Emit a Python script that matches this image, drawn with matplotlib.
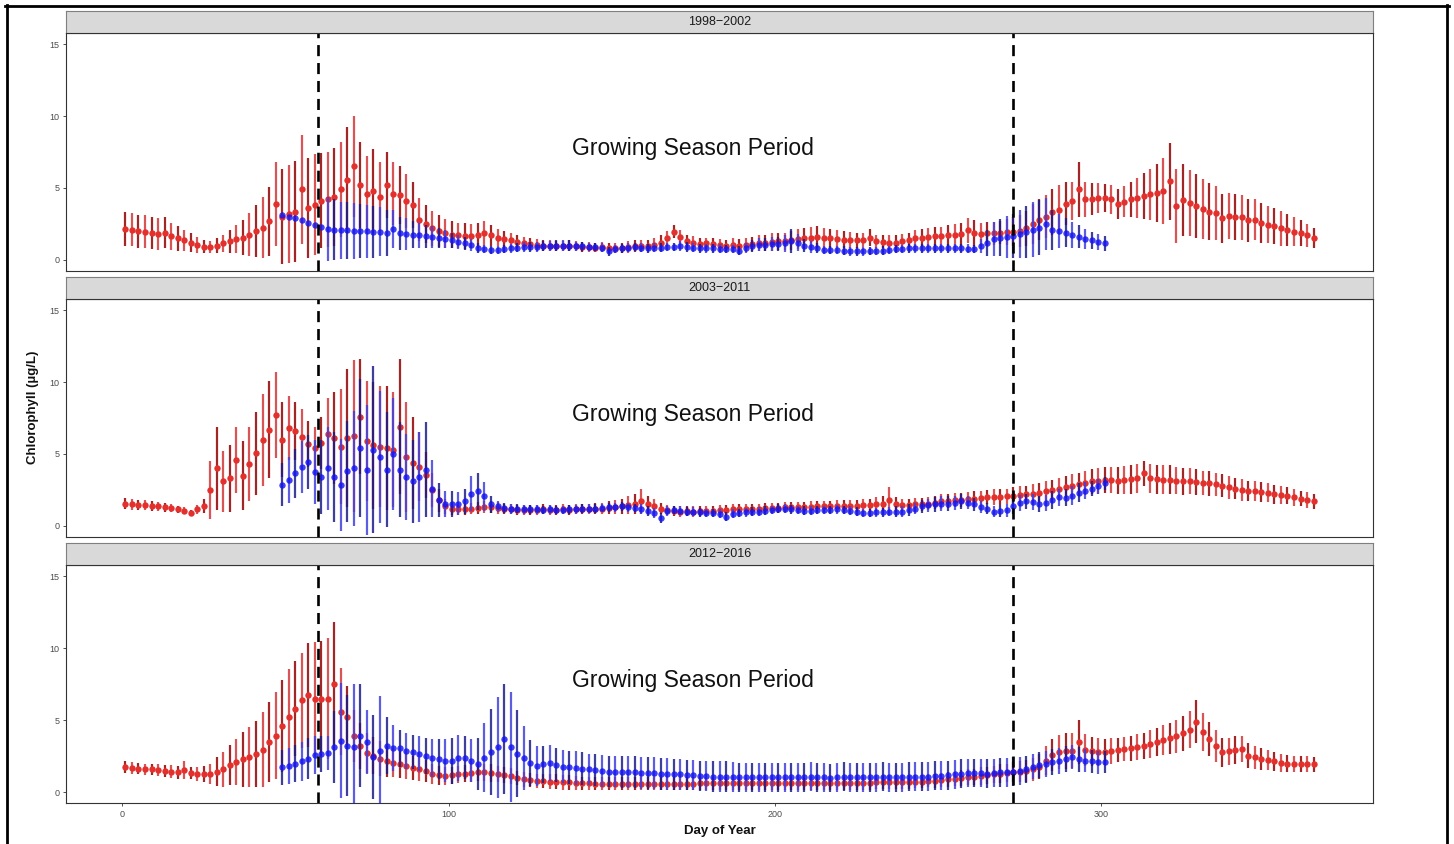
import numpy as np
import matplotlib
matplotlib.use("Agg")
import matplotlib.pyplot as plt
from matplotlib.lines import Line2D

plt.rcParams['font.family'] = ['Liberation Sans', 'DejaVu Sans']

# daily chlorophyll means +/- sd, sampled every second day
# red series starts on day 1, blue series on day 49
red_start, blue_start, day_step = 1, 49, 2

periods = ["1998\u22122002", "2003\u22122011", "2012\u22122016"]
season_start, season_end = 60, 273

# ---- 1998-2002 ----
p1_red_mean = [
    2.15, 2.1, 2.0, 1.95, 1.85, 1.8, 1.9, 1.65, 1.5, 1.35,
    1.2, 1.05, 0.9, 0.9, 1.0, 1.15, 1.3, 1.45, 1.55, 1.75,
    2.0, 2.25, 2.7, 3.9, 3.0, 3.2, 3.35, 4.9, 3.6, 3.85,
    4.1, 4.2, 4.35, 4.9, 5.55, 6.5, 5.2, 4.6, 4.8, 4.4,
    5.2, 4.6, 4.5, 4.1, 3.8, 2.8, 2.5, 2.2, 2.0, 1.85,
    1.75, 1.7, 1.65, 1.65, 1.7, 1.85, 1.7, 1.55, 1.45, 1.35,
    1.25, 1.2, 1.1, 1.05, 1.0, 1.0, 0.95, 0.95, 1.0, 0.95,
    0.9, 0.9, 0.85, 0.9, 0.85, 0.8, 0.85, 0.9, 0.95, 0.95,
    1.0, 1.05, 1.2, 1.5, 1.95, 1.6, 1.3, 1.2, 1.1, 1.15,
    1.1, 1.05, 1.0, 1.05, 1.0, 1.05, 1.1, 1.15, 1.2, 1.25,
    1.3, 1.3, 1.35, 1.45, 1.5, 1.55, 1.6, 1.55, 1.5, 1.45,
    1.4, 1.4, 1.35, 1.4, 1.55, 1.3, 1.25, 1.2, 1.2, 1.3,
    1.4, 1.5, 1.55, 1.6, 1.65, 1.65, 1.7, 1.75, 1.8, 2.05,
    1.85, 1.8, 1.85, 1.85, 1.9, 1.95, 1.95, 2.0, 2.2, 2.5,
    2.8, 3.0, 3.3, 3.5, 3.9, 4.1, 4.9, 4.2, 4.25, 4.3,
    4.3, 4.2, 3.9, 4.05, 4.2, 4.3, 4.45, 4.55, 4.65, 4.8,
    5.45, 3.75, 4.15, 3.95, 3.75, 3.55, 3.35, 3.25, 2.9, 3.05,
    3.0, 2.95, 2.75, 2.8, 2.55, 2.45, 2.35, 2.2, 2.1, 1.95,
    1.85, 1.7, 1.55]
p1_red_sd = [
    1.15, 1.15, 1.15, 1.15, 1.1, 1.1, 1.1, 0.95, 0.85, 0.75,
    0.65, 0.55, 0.45, 0.4, 0.5, 0.6, 0.8, 1.0, 1.2, 1.5,
    1.8, 2.1, 2.4, 2.9, 3.3, 3.4, 3.5, 3.8, 3.5, 3.5,
    3.3, 3.3, 3.4, 3.3, 3.7, 3.5, 3.0, 2.6, 2.9, 2.4,
    2.3, 2.2, 2.0, 1.9, 1.6, 1.5, 1.3, 1.2, 1.1, 1.0,
    0.95, 0.9, 0.9, 0.85, 0.9, 0.85, 0.7, 0.6, 0.55, 0.5,
    0.45, 0.4, 0.4, 0.4, 0.35, 0.35, 0.35, 0.35, 0.35, 0.35,
    0.35, 0.35, 0.3, 0.35, 0.35, 0.35, 0.35, 0.4, 0.4, 0.4,
    0.4, 0.45, 0.5, 0.5, 0.45, 0.5, 0.45, 0.45, 0.4, 0.4,
    0.4, 0.4, 0.4, 0.45, 0.45, 0.5, 0.5, 0.55, 0.55, 0.6,
    0.6, 0.6, 0.65, 0.7, 0.7, 0.75, 0.75, 0.7, 0.65, 0.6,
    0.6, 0.55, 0.55, 0.5, 0.6, 0.45, 0.45, 0.5, 0.55, 0.5,
    0.5, 0.55, 0.6, 0.6, 0.65, 0.65, 0.7, 0.75, 0.8, 0.85,
    0.9, 0.8, 0.8, 0.8, 0.8, 0.9, 1.0, 1.1, 1.2, 1.4,
    1.4, 1.5, 1.6, 1.7, 1.5, 1.3, 1.9, 1.2, 1.1, 1.05,
    1.0, 1.0, 1.05, 1.1, 1.2, 1.4, 1.6, 1.8, 2.0, 2.3,
    2.7, 2.6, 2.5, 2.3, 2.2, 2.1, 2.0, 1.9, 1.7, 1.6,
    1.6, 1.55, 1.5, 1.45, 1.4, 1.3, 1.25, 1.2, 1.1, 1.0,
    0.9, 0.8, 0.7]
p1_blue_mean = [
    3.1, 3.0, 2.9, 2.8, 2.6, 2.45, 2.3, 2.15, 2.1, 2.05,
    2.05, 2.0, 2.0, 2.0, 1.95, 1.95, 1.9, 2.15, 1.85, 1.8,
    1.75, 1.7, 1.65, 1.6, 1.55, 1.45, 1.35, 1.25, 1.15, 1.05,
    0.85, 0.75, 0.7, 0.7, 0.75, 0.8, 0.85, 0.9, 0.9, 0.9,
    0.95, 0.95, 1.0, 1.0, 1.0, 0.95, 0.95, 0.9, 0.9, 0.85,
    0.6, 0.75, 0.8, 0.85, 0.9, 0.85, 0.8, 0.85, 0.85, 0.9,
    0.9, 0.95, 0.9, 0.85, 0.8, 0.8, 0.8, 0.78, 0.76, 0.75,
    0.65, 0.8, 0.95, 1.05, 1.05, 1.1, 1.1, 1.15, 1.3, 1.2,
    1.0, 0.9, 0.8, 0.7, 0.7, 0.7, 0.65, 0.6, 0.6, 0.6,
    0.62, 0.62, 0.65, 0.7, 0.75, 0.75, 0.8, 0.8, 0.8, 0.8,
    0.8, 0.8, 0.8, 0.8, 0.8, 0.78, 0.75, 0.95, 1.2, 1.45,
    1.55, 1.6, 1.65, 1.8, 1.95, 2.1, 2.25, 2.5, 2.1, 2.0,
    1.9, 1.75, 1.6, 1.45, 1.35, 1.25, 1.15]
p1_blue_sd = [
    0.0, 0.0, 0.0, 0.0, 0.0, 0.0, 0.0, 2.2, 2.1, 2.0,
    2.0, 1.95, 1.9, 1.85, 1.8, 1.7, 1.6, 1.3, 1.15, 1.1,
    0.95, 0.85, 0.8, 0.75, 0.7, 0.6, 0.55, 0.5, 0.45, 0.4,
    0.35, 0.3, 0.3, 0.3, 0.3, 0.3, 0.3, 0.35, 0.35, 0.35,
    0.35, 0.35, 0.35, 0.35, 0.35, 0.3, 0.3, 0.3, 0.3, 0.3,
    0.3, 0.3, 0.3, 0.3, 0.3, 0.3, 0.3, 0.3, 0.3, 0.3,
    0.3, 0.35, 0.35, 0.3, 0.3, 0.3, 0.3, 0.3, 0.3, 0.3,
    0.3, 0.35, 0.4, 0.45, 0.45, 0.5, 0.5, 0.6, 0.85, 0.6,
    0.45, 0.4, 0.35, 0.3, 0.3, 0.3, 0.3, 0.3, 0.3, 0.3,
    0.3, 0.3, 0.3, 0.3, 0.3, 0.3, 0.3, 0.3, 0.3, 0.3,
    0.3, 0.3, 0.3, 0.3, 0.3, 0.3, 0.3, 0.5, 0.9, 1.2,
    1.3, 1.45, 1.55, 1.7, 1.8, 1.9, 1.9, 1.8, 1.4, 1.2,
    1.0, 0.9, 0.8, 0.7, 0.6, 0.55, 0.5]

# ---- 2003-2011 ----
p2_red_mean = [
    1.55, 1.5, 1.45, 1.45, 1.4, 1.35, 1.3, 1.25, 1.15, 1.05,
    0.9, 1.15, 1.4, 2.5, 4.0, 3.1, 3.3, 4.6, 3.5, 4.3,
    5.05, 6.0, 6.7, 7.7, 6.0, 6.8, 6.6, 6.2, 5.7, 5.4,
    5.75, 6.4, 6.1, 5.5, 6.1, 6.25, 7.6, 5.9, 5.6, 5.5,
    5.4, 5.3, 6.9, 4.8, 4.4, 4.1, 3.55, 2.5, 1.8, 1.35,
    1.2, 1.15, 1.15, 1.2, 1.25, 1.3, 1.3, 1.25, 1.2, 1.15,
    1.1, 1.1, 1.1, 1.1, 1.15, 1.1, 1.1, 1.15, 1.1, 1.15,
    1.15, 1.15, 1.2, 1.2, 1.25, 1.3, 1.35, 1.45, 1.55, 1.7,
    1.5, 1.35, 1.2, 1.1, 1.05, 1.0, 1.05, 1.0, 1.05, 1.05,
    1.05, 1.1, 1.1, 1.15, 1.15, 1.2, 1.2, 1.2, 1.25, 1.25,
    1.25, 1.3, 1.3, 1.3, 1.3, 1.3, 1.35, 1.35, 1.35, 1.4,
    1.4, 1.4, 1.4, 1.45, 1.45, 1.5, 1.55, 1.8, 1.5, 1.45,
    1.45, 1.5, 1.5, 1.55, 1.6, 1.7, 1.75, 1.8, 1.8, 1.85,
    1.9, 1.95, 2.0, 2.0, 2.0, 2.05, 2.1, 2.15, 2.2, 2.25,
    2.3, 2.4, 2.5, 2.6, 2.7, 2.8, 2.9, 3.0, 3.1, 3.15,
    3.2, 3.2, 3.15, 3.2, 3.25, 3.3, 3.65, 3.3, 3.25, 3.2,
    3.2, 3.15, 3.1, 3.1, 3.05, 3.0, 2.95, 2.9, 2.8, 2.7,
    2.6, 2.5, 2.45, 2.4, 2.35, 2.3, 2.2, 2.15, 2.1, 2.0,
    1.9, 1.8, 1.7]
p2_red_sd = [
    0.4, 0.4, 0.35, 0.35, 0.35, 0.3, 0.3, 0.3, 0.25, 0.25,
    0.2, 0.3, 0.5, 2.0, 2.9, 2.1, 2.3, 2.3, 2.4, 2.6,
    2.9, 3.2, 3.4, 3.0, 2.6, 2.2, 2.0, 1.9, 1.6, 1.5,
    1.8, 2.5, 3.2, 4.0, 4.8, 5.3, 4.0, 4.2, 4.4, 4.2,
    4.3, 4.0, 4.7, 3.8, 3.2, 2.4, 1.6, 1.2, 0.8, 0.5,
    0.45, 0.4, 0.4, 0.4, 0.4, 0.4, 0.4, 0.4, 0.35, 0.35,
    0.35, 0.35, 0.35, 0.35, 0.35, 0.35, 0.35, 0.35, 0.35, 0.35,
    0.35, 0.35, 0.4, 0.4, 0.45, 0.5, 0.55, 0.6, 0.7, 0.9,
    0.6, 0.5, 0.4, 0.35, 0.35, 0.35, 0.35, 0.35, 0.35, 0.35,
    0.35, 0.35, 0.35, 0.35, 0.35, 0.35, 0.35, 0.35, 0.35, 0.35,
    0.35, 0.35, 0.35, 0.35, 0.35, 0.4, 0.4, 0.4, 0.4, 0.4,
    0.4, 0.4, 0.4, 0.45, 0.45, 0.5, 0.5, 0.9, 0.5, 0.45,
    0.45, 0.45, 0.45, 0.45, 0.45, 0.5, 0.5, 0.5, 0.5, 0.5,
    0.5, 0.5, 0.5, 0.55, 0.55, 0.55, 0.6, 0.6, 0.6, 0.65,
    0.65, 0.7, 0.7, 0.75, 0.75, 0.8, 0.8, 0.85, 0.85, 0.9,
    0.9, 0.9, 0.95, 0.95, 1.0, 1.0, 0.85, 1.0, 1.0, 1.0,
    1.0, 0.95, 0.95, 0.9, 0.9, 0.85, 0.85, 0.8, 0.8, 0.8,
    0.75, 0.75, 0.7, 0.7, 0.7, 0.65, 0.65, 0.6, 0.6, 0.6,
    0.55, 0.55, 0.5]
p2_blue_mean = [
    2.85, 3.2, 3.65, 4.1, 4.45, 3.75, 3.4, 4.0, 3.4, 2.85,
    3.8, 4.0, 5.4, 3.9, 5.3, 4.8, 3.9, 5.0, 3.9, 3.4,
    3.1, 3.4, 3.9, 2.6, 1.8, 1.55, 1.5, 1.55, 1.7, 2.25,
    2.4, 2.05, 1.5, 1.35, 1.25, 1.2, 1.2, 1.15, 1.15, 1.15,
    1.1, 1.15, 1.1, 1.1, 1.15, 1.15, 1.2, 1.2, 1.2, 1.25,
    1.3, 1.3, 1.35, 1.3, 1.25, 1.2, 1.05, 0.9, 0.55, 1.05,
    1.1, 1.05, 1.0, 1.0, 0.95, 0.9, 0.9, 0.85, 0.65, 0.85,
    0.9, 0.95, 1.0, 1.0, 1.05, 1.1, 1.2, 1.2, 1.15, 1.1,
    1.05, 1.05, 1.1, 1.1, 1.1, 1.15, 1.1, 1.05, 1.0, 0.9,
    0.9, 0.95, 0.95, 1.0, 1.0, 1.0, 1.1, 1.2, 1.35, 1.45,
    1.5, 1.55, 1.55, 1.6, 1.7, 1.6, 1.5, 1.3, 1.2, 1.0,
    1.05, 1.1, 1.35, 1.6, 1.7, 1.65, 1.55, 1.6, 1.8, 2.0,
    1.95, 2.1, 2.3, 2.45, 2.6, 2.75, 2.95]
p2_blue_sd = [
    1.5, 1.6, 1.7, 1.8, 1.9, 2.2, 2.6, 2.9, 3.1, 3.2,
    3.5, 4.0, 4.8, 4.5, 5.8, 4.6, 4.0, 3.9, 3.3, 3.0,
    2.9, 3.1, 3.3, 2.0, 1.2, 0.9, 0.9, 0.8, 0.9, 1.2,
    1.3, 1.0, 0.6, 0.4, 0.35, 0.35, 0.3, 0.3, 0.3, 0.3,
    0.3, 0.3, 0.3, 0.3, 0.3, 0.3, 0.3, 0.3, 0.3, 0.3,
    0.3, 0.3, 0.3, 0.3, 0.3, 0.35, 0.35, 0.35, 0.35, 0.35,
    0.3, 0.3, 0.3, 0.3, 0.3, 0.3, 0.3, 0.3, 0.3, 0.3,
    0.3, 0.3, 0.3, 0.3, 0.3, 0.3, 0.3, 0.3, 0.3, 0.3,
    0.3, 0.3, 0.3, 0.3, 0.3, 0.3, 0.3, 0.3, 0.3, 0.3,
    0.3, 0.3, 0.3, 0.3, 0.35, 0.35, 0.4, 0.4, 0.45, 0.45,
    0.5, 0.5, 0.5, 0.5, 0.5, 0.45, 0.45, 0.4, 0.4, 0.4,
    0.4, 0.45, 0.5, 0.55, 0.55, 0.55, 0.55, 0.55, 0.6, 0.6,
    0.6, 0.65, 0.65, 0.6, 0.55, 0.5, 0.45]

# ---- 2012-2016 ----
p3_red_mean = [
    1.75, 1.7, 1.65, 1.6, 1.6, 1.55, 1.5, 1.45, 1.4, 1.55,
    1.35, 1.3, 1.3, 1.3, 1.45, 1.6, 1.9, 2.1, 2.3, 2.45,
    2.65, 2.95, 3.5, 3.95, 4.6, 5.25, 5.8, 6.4, 6.75, 6.5,
    6.5, 6.5, 7.55, 5.6, 5.2, 3.9, 3.2, 2.75, 2.55, 2.35,
    2.15, 2.05, 1.95, 1.85, 1.7, 1.6, 1.5, 1.3, 1.2, 1.15,
    1.2, 1.25, 1.3, 1.35, 1.4, 1.4, 1.35, 1.3, 1.2, 1.15,
    1.0, 0.9, 0.85, 0.8, 0.8, 0.75, 0.75, 0.7, 0.7, 0.65,
    0.65, 0.65, 0.6, 0.6, 0.6, 0.6, 0.6, 0.6, 0.6, 0.6,
    0.6, 0.6, 0.6, 0.6, 0.6, 0.62, 0.62, 0.62, 0.65, 0.65,
    0.65, 0.65, 0.65, 0.65, 0.65, 0.65, 0.65, 0.65, 0.65, 0.65,
    0.65, 0.65, 0.65, 0.65, 0.65, 0.65, 0.65, 0.65, 0.65, 0.65,
    0.65, 0.65, 0.65, 0.65, 0.65, 0.7, 0.7, 0.7, 0.7, 0.7,
    0.7, 0.75, 0.75, 0.8, 0.8, 0.85, 0.9, 0.95, 1.0, 1.05,
    1.1, 1.15, 1.2, 1.25, 1.3, 1.35, 1.4, 1.45, 1.5, 1.6,
    1.8, 2.2, 2.6, 2.8, 2.9, 2.9, 3.5, 2.95, 2.85, 2.8,
    2.8, 2.85, 2.95, 3.0, 3.05, 3.15, 3.25, 3.35, 3.5, 3.65,
    3.75, 3.9, 4.1, 4.35, 4.9, 4.2, 3.7, 3.2, 2.8, 2.85,
    2.95, 3.0, 2.55, 2.45, 2.3, 2.25, 2.15, 2.05, 2.0, 1.95,
    2.0, 1.95, 1.95]
p3_red_sd = [
    0.4, 0.4, 0.4, 0.4, 0.4, 0.4, 0.4, 0.45, 0.45, 0.6,
    0.45, 0.5, 0.55, 0.7, 1.0, 1.2, 1.4, 1.6, 1.9, 2.1,
    2.3, 2.6, 2.8, 3.0, 3.2, 3.3, 3.3, 3.3, 3.6, 3.9,
    4.0, 4.2, 4.25, 3.0, 2.2, 1.8, 1.6, 1.4, 1.3, 1.2,
    1.1, 1.0, 0.95, 0.9, 0.85, 0.8, 0.75, 0.7, 0.65, 0.6,
    0.6, 0.6, 0.6, 0.6, 0.6, 0.6, 0.6, 0.55, 0.55, 0.55,
    0.5, 0.5, 0.5, 0.5, 0.5, 0.5, 0.5, 0.5, 0.5, 0.5,
    0.45, 0.45, 0.45, 0.45, 0.45, 0.45, 0.45, 0.45, 0.45, 0.45,
    0.45, 0.45, 0.45, 0.45, 0.45, 0.45, 0.45, 0.45, 0.45, 0.45,
    0.45, 0.45, 0.45, 0.45, 0.45, 0.45, 0.45, 0.45, 0.45, 0.45,
    0.45, 0.45, 0.45, 0.45, 0.45, 0.45, 0.45, 0.45, 0.45, 0.45,
    0.45, 0.45, 0.45, 0.45, 0.45, 0.45, 0.45, 0.45, 0.45, 0.45,
    0.45, 0.45, 0.45, 0.45, 0.5, 0.5, 0.5, 0.5, 0.55, 0.55,
    0.55, 0.6, 0.6, 0.6, 0.65, 0.65, 0.7, 0.7, 0.75, 0.8,
    0.9, 1.0, 1.1, 1.2, 1.25, 1.2, 1.5, 1.1, 1.0, 0.95,
    0.9, 0.9, 0.85, 0.85, 0.85, 0.9, 0.9, 0.95, 1.0, 1.05,
    1.1, 1.15, 1.2, 1.3, 1.5, 1.3, 1.2, 1.1, 1.0, 0.95,
    0.95, 0.9, 0.85, 0.8, 0.75, 0.7, 0.65, 0.6, 0.6, 0.55,
    0.55, 0.55, 0.5]
p3_blue_mean = [
    1.75, 1.85, 2.0, 2.15, 2.35, 2.6, 2.7, 2.75, 3.15, 3.6,
    3.25, 3.15, 3.95, 3.5, 2.45, 2.9, 3.25, 3.1, 3.05, 2.85,
    2.8, 2.7, 2.55, 2.4, 2.3, 2.2, 2.2, 2.4, 2.4, 2.2,
    2.0, 2.4, 2.8, 3.15, 3.7, 3.15, 2.7, 2.4, 2.05, 1.85,
    1.95, 2.05, 1.9, 1.8, 1.75, 1.7, 1.65, 1.6, 1.55, 1.5,
    1.45, 1.45, 1.4, 1.4, 1.4, 1.35, 1.35, 1.35, 1.3, 1.3,
    1.25, 1.25, 1.2, 1.2, 1.15, 1.15, 1.1, 1.1, 1.1, 1.05,
    1.05, 1.05, 1.05, 1.05, 1.05, 1.05, 1.05, 1.05, 1.05, 1.05,
    1.05, 1.1, 1.05, 1.05, 1.0, 1.05, 1.1, 1.05, 1.05, 1.05,
    1.05, 1.05, 1.1, 1.05, 1.05, 1.05, 1.1, 1.1, 1.1, 1.1,
    1.15, 1.15, 1.2, 1.25, 1.3, 1.35, 1.35, 1.35, 1.3, 1.35,
    1.4, 1.4, 1.45, 1.5, 1.6, 1.8, 1.9, 2.0, 2.1, 2.2,
    2.35, 2.45, 2.3, 2.2, 2.15, 2.1, 2.1]
p3_blue_sd = [
    1.2, 1.25, 1.3, 1.35, 1.4, 1.3, 1.25, 1.2, 2.5, 4.0,
    3.5, 4.4, 3.6, 2.2, 2.9, 3.8, 2.0, 1.6, 1.3, 1.25,
    1.2, 1.2, 1.25, 1.3, 1.4, 1.5, 1.6, 1.6, 1.5, 1.5,
    1.8, 2.4, 3.0, 3.5, 3.8, 3.8, 3.0, 2.2, 1.6, 1.4,
    1.3, 1.25, 1.2, 1.15, 1.15, 1.15, 1.15, 1.1, 1.1, 1.1,
    1.1, 1.1, 1.1, 1.1, 1.1, 1.1, 1.1, 1.1, 1.1, 1.1,
    1.05, 1.05, 1.05, 1.05, 1.05, 1.05, 1.05, 1.05, 1.05, 1.05,
    1.0, 1.0, 1.0, 1.0, 1.0, 1.0, 1.0, 1.0, 1.0, 1.0,
    1.0, 1.0, 1.0, 1.0, 1.0, 1.0, 1.0, 1.0, 1.0, 1.0,
    1.0, 1.0, 1.0, 1.0, 1.0, 1.0, 1.0, 1.0, 1.0, 1.0,
    1.0, 1.0, 1.0, 1.0, 1.0, 1.0, 1.0, 1.0, 1.0, 1.0,
    1.0, 1.0, 1.0, 0.95, 0.95, 0.9, 0.9, 0.9, 0.9, 0.9,
    0.9, 0.85, 0.85, 0.8, 0.8, 0.8, 0.75]

panels = [
    (p1_red_mean, p1_red_sd, p1_blue_mean, p1_blue_sd),
    (p2_red_mean, p2_red_sd, p2_blue_mean, p2_blue_sd),
    (p3_red_mean, p3_red_sd, p3_blue_mean, p3_blue_sd),
]

W, H = 1454, 844
fig = plt.figure(figsize=(W / 100, H / 100), dpi=100)


def fx(px):
    return px / W


def fy(py):
    return 1 - py / H


left_px, right_px = 66, 1373
strip_px = [(10.7, 33.3), (276.7, 299.3), (542.7, 565.3)]
bottom_px = [270.7, 536.7, 803.3]

red_bar_cols = ['#A32626', '#D95555']
blue_bar_cols = ['#1C1C8A', '#4040DD']


def draw_series(ax, start, mean, sd, bar_cols, pt_col, alpha_bar, alpha_pt, z):
    n = min(len(mean), len(sd))
    m = np.array(mean[:n])
    s = np.array(sd[:n])
    d = start + day_step * np.arange(n)
    cols = [bar_cols[i % 2] for i in range(n)]
    ax.vlines(d, m - s, m + s, colors=cols, lw=1.6, alpha=alpha_bar, zorder=z)
    ax.plot(d, m, 'o', color=pt_col, ms=4.6, mec='none', alpha=alpha_pt, zorder=z + 0.5)


for i, (rm, rs, bm, bs) in enumerate(panels):
    top = strip_px[i][1]
    bot = bottom_px[i]
    ax = fig.add_axes([fx(left_px), fy(bot), fx(right_px - left_px), (bot - top) / H])

    draw_series(ax, red_start, rm, rs, red_bar_cols, '#E3302C', 1.0, 1.0, 2)
    draw_series(ax, blue_start, bm, bs, blue_bar_cols, '#1414F2', 0.85, 0.82, 3)

    for xv in (season_start, season_end):
        ax.axvline(xv, color='black', lw=1.9, ls=(0, (4.2, 2.6)), zorder=5)
    ax.text(175, 7.75, 'Growing Season Period', ha='center', va='center',
            fontsize=16.5, color='#111111', zorder=6)

    ax.set_xlim(-17.2, 383.2)
    ax.set_ylim(-0.75, 15.75)
    ax.set_yticks([0, 5, 10, 15])
    ax.set_xticks([0, 100, 200, 300])
    ax.tick_params(axis='both', labelsize=6.5, labelcolor='#4D4D4D', color='#333333',
                   length=2.5, width=0.6, pad=2)
    if i < 2:
        ax.tick_params(axis='x', bottom=False, labelbottom=False)
    for sp in ax.spines.values():
        sp.set_color('#333333')
        sp.set_linewidth(0.8)

    # facet strip
    sax = fig.add_axes([fx(left_px), fy(strip_px[i][1]), fx(right_px - left_px),
                        (strip_px[i][1] - strip_px[i][0]) / H])
    sax.set_facecolor('#D9D9D9')
    sax.set_xticks([])
    sax.set_yticks([])
    for sp in sax.spines.values():
        sp.set_color('#7F7F7F')
        sp.set_linewidth(0.8)
    sax.spines['bottom'].set_color('#333333')
    sax.text(0.5, 0.5, periods[i], ha='center', va='center', fontsize=9,
             color='#1A1A1A', transform=sax.transAxes)

fig.text(fx((left_px + right_px) / 2), fy(831), 'Day of Year', ha='center', va='center',
         fontsize=9.5, fontweight='bold', color='#111111')
fig.text(fx(33), fy(407), 'Chlorophyll (\u00b5g/L)', ha='center', va='center',
         rotation=90, fontsize=9.5, fontweight='bold', color='#111111')

# outer frame
for xs, ys in [([7, 7], [5, H]), ([5, 1449], [6, 6]), ([1447, 1447], [5, H])]:
    fig.add_artist(Line2D([fx(x) for x in xs], [fy(y) for y in ys], color='black',
                          lw=2.0, transform=fig.transFigure))

fig.savefig('out.png', dpi=100)
